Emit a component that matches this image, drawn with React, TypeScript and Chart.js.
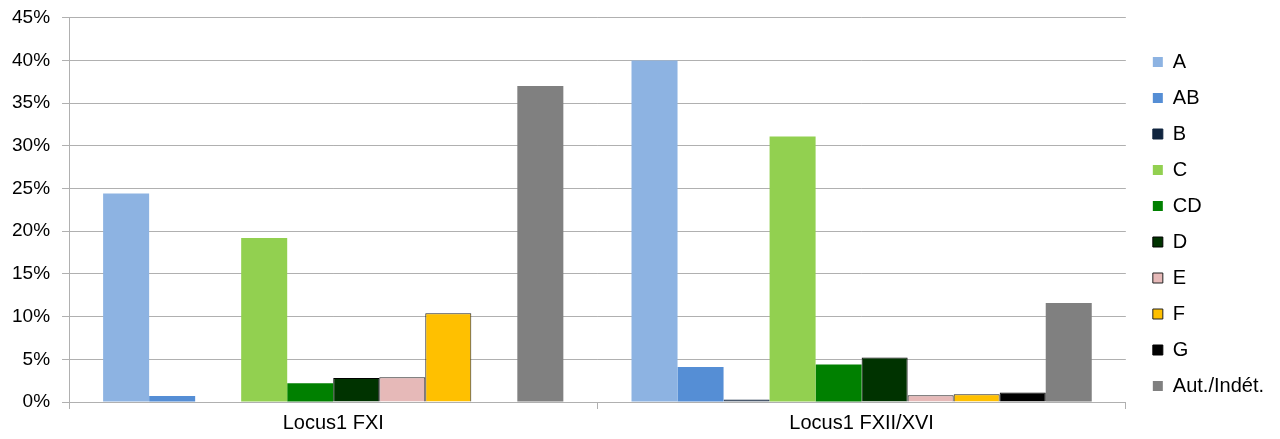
import React, { useEffect, useRef } from "react";
import { Chart, registerables } from "chart.js";

Chart.register(...registerables);

const categories = ["Locus1 FXI", "Locus1 FXII/XVI"];
const seriesNames = ["A", "AB", "B", "C", "CD", "D", "E", "F", "G", "Aut./Indét."];
const valuesA = [24.4, 40.0];
const valuesAB = [0.7, 4.1];
const valuesB = [null, 0.3];
const valuesC = [19.2, 31.1];
const valuesCD = [2.2, 4.4];
const valuesD = [2.8, 5.2];
const valuesE = [2.9, 0.8];
const valuesF = [10.4, 0.9];
const valuesG = [null, 1.1];
const valuesAut = [37.0, 11.6];
const yTicks = [0, 5, 10, 15, 20, 25, 30, 35, 40, 45];

const seriesValues = [valuesA, valuesAB, valuesB, valuesC, valuesCD, valuesD, valuesE, valuesF, valuesG, valuesAut];
const fills = ["#8DB3E2", "#558ED5", "#10253F", "#92D050", "#008000", "#003300", "#E6B9B8", "#FFC000", "#000000", "#808080"];
const borders = ["#8DB3E2", "#558ED5", "#10253F", "#92D050", "#008000", "#000000", "#222222", "#222222", "#000000", "#808080"];
const borderWidths = [0, 0, 1, 0, 0, 1, 1, 1, 1, 0];

const legendShift = {
  id: "legendShift",
  afterLayout(chart: any) {
    const l = chart.legend;
    if (l) {
      l.left -= 6;
      l.right -= 6;
    }
  },
};

export default function App() {
  const ref = useRef<HTMLCanvasElement | null>(null);
  useEffect(() => {
    document.body.style.margin = "0";
    const ctx = ref.current!;
    const chart = new Chart(ctx, {
      type: "bar",
      data: {
        labels: categories,
        datasets: seriesNames.map((n, i) => ({
          label: n,
          data: seriesValues[i] as any,
          backgroundColor: fills[i],
          borderColor: borders[i],
          borderWidth: borderWidths[i],
          categoryPercentage: 0.871,
          barPercentage: 1,
        })),
      },
      plugins: [legendShift],
      options: {
        animation: false,
        responsive: false,
        devicePixelRatio: 1,
        layout: { padding: { top: 11, right: 0, left: 0, bottom: 2 } },
        plugins: {
          tooltip: { enabled: false },
          legend: {
            position: "right",
            align: "center",
            labels: {
              color: "#000",
              font: { family: "Liberation Sans", size: 20 },
              boxWidth: 10,
              boxHeight: 10,
              padding: 16,
            },
          },
        },
        scales: {
          x: {
            grid: { drawOnChartArea: false, drawTicks: true, tickLength: 7, color: "#B0B0B0", offset: true },
            border: { color: "#B0B0B0" },
            ticks: { color: "#000", font: { family: "Liberation Sans", size: 20 }, padding: 2 },
          },
          y: {
            min: 0,
            max: 45,
            afterBuildTicks: (axis: any) => {
              axis.ticks = yTicks.map((v) => ({ value: v }));
            },
            grid: { color: "#B0B0B0", tickLength: 7 },
            border: { color: "#B0B0B0" },
            ticks: {
              color: "#000",
              font: { family: "Liberation Sans", size: 19, lineHeight: 0.6 },
              padding: 12,
              callback: (v: any) => v + "%",
            },
          },
          spacer: {
            type: "linear",
            position: "right",
            display: true,
            grid: { display: false },
            border: { display: false },
            ticks: { display: false },
            afterFit: (scale: any) => {
              scale.width = 17;
            },
          },
        },
      },
    });
    return () => chart.destroy();
  }, []);
  return (
    <div style={{ width: 1280, height: 439 }}>
      <canvas ref={ref} width={1280} height={439} />
    </div>
  );
}
